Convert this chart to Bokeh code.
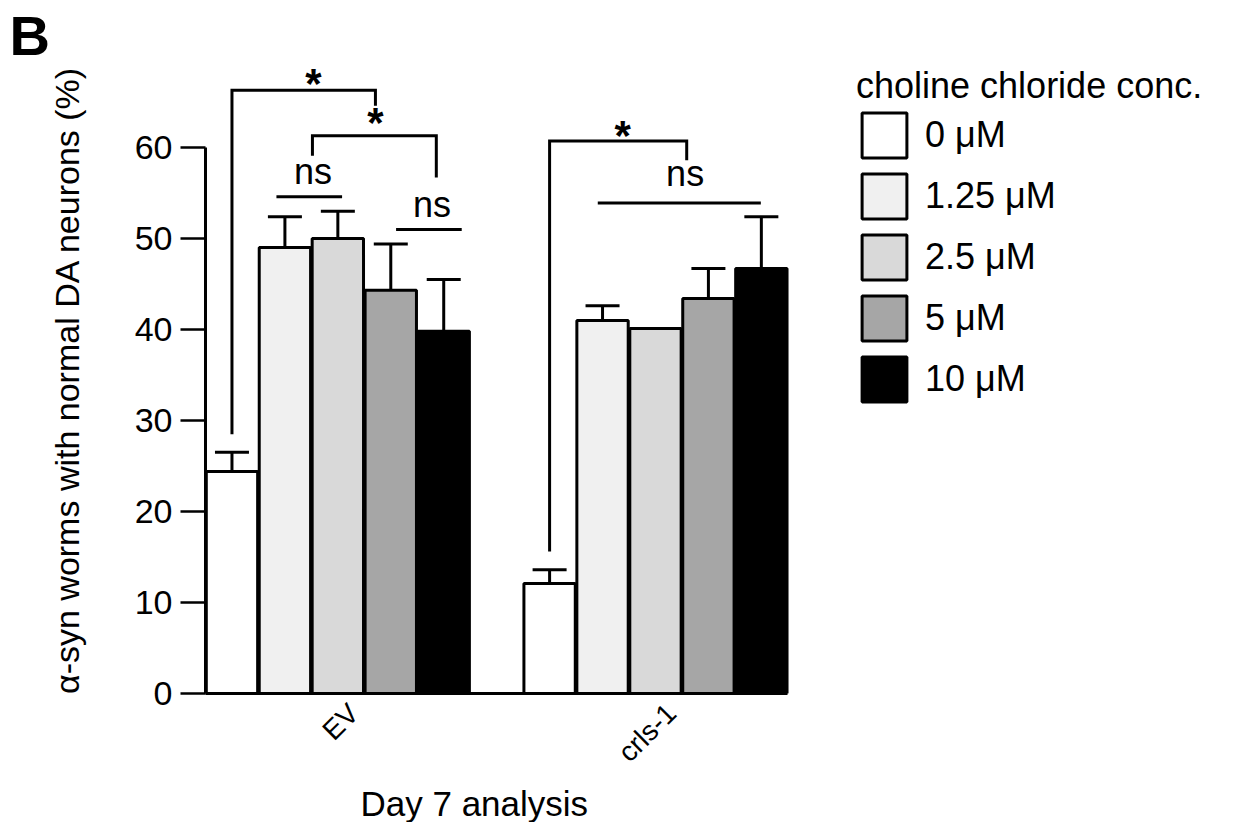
from math import pi
from bokeh.plotting import figure
from bokeh.models import (Range1d, FixedTicker, Legend, LegendItem, Whisker,
                          TeeHead, ColumnDataSource, Title)
from bokeh.core.properties import value
from bokeh.embed import file_html
from bokeh.resources import INLINE

# ---------------- data ----------------
groups = ["EV", "crls-1"]
concentrations = ["0 \u03bcM", "1.25 \u03bcM", "2.5 \u03bcM", "5 \u03bcM", "10 \u03bcM"]
ev_mean = [24.4, 49.0, 50.0, 44.3, 39.8]
ev_sem = [2.1, 3.4, 3.0, 5.1, 5.7]
crls_mean = [12.1, 41.0, 40.1, 43.4, 46.7]
crls_sem = [1.5, 1.6, 0.0, 3.3, 5.7]
bar_colors = ["#ffffff", "#f0f0f0", "#d9d9d9", "#a6a6a6", "#000000"]
y_ticks = [0, 10, 20, 30, 40, 50, 60]

# significance annotations (x in bar slots, y in %)
bracket_xs = [[0.5, 0.5, 3.21, 3.21], [2.02, 2.02, 4.36, 4.36], [6.5, 6.5, 9.09, 9.09]]
bracket_ys = [[28.5, 66.3, 66.3, 64.6], [59.1, 61.3, 61.3, 56.7], [15.6, 60.7, 60.7, 58.6]]
star_x = [2.04, 3.21, 7.88]
star_y = [67.0, 62.7, 61.3]
ns_line_x0 = [1.34, 3.60, 7.41]
ns_line_x1 = [2.58, 4.84, 10.49]
ns_line_y = [54.6, 51.0, 53.9]
ns_x = [2.03, 4.28, 9.06]
ns_y = [57.4, 53.7, 57.1]

FONT = "Liberation Sans"
n_conc = len(concentrations)
group_gap = n_conc + 1
group_centers = [g * group_gap + n_conc / 2 for g in range(len(groups))]
label_shift = 0.3
x_end = 11

p = figure(width=1232, height=822, x_range=Range1d(0, 19.4), y_range=Range1d(0, 68.9),
           output_backend="svg", toolbar_location=None,
           min_border_left=205, min_border_top=66, min_border_bottom=129,
           min_border_right=0)
p.xgrid.visible = False
p.ygrid.visible = False
p.outline_line_color = None

legend_items = []
for i, conc in enumerate(concentrations):
    xs = [g * group_gap + i + 0.5 for g in range(len(groups))]
    tops = [ev_mean[i], crls_mean[i]]
    errs = [ev_sem[i], crls_sem[i]]
    src = ColumnDataSource(dict(x=xs, top=tops))
    r = p.vbar(x="x", top="top", width=0.97, bottom=0, source=src,
               fill_color=bar_colors[i], line_color="black", line_width=3)
    legend_items.append(LegendItem(label=conc, renderers=[r]))
    keep = [k for k in range(len(xs)) if errs[k] > 0]
    esrc = ColumnDataSource(dict(x=[xs[k] for k in keep], lower=[tops[k] for k in keep],
                                 upper=[tops[k] + errs[k] for k in keep]))
    w = Whisker(base="x", lower="lower", upper="upper", source=esrc, dimension="height",
                line_width=3, line_color="black",
                upper_head=TeeHead(size=34, line_width=3, line_color="black"),
                lower_head=None)
    p.add_layout(w)

# brackets and ns lines
p.multi_line(xs=bracket_xs, ys=bracket_ys, line_width=3, line_color="black",
             line_join="miter")
p.segment(x0=ns_line_x0, y0=ns_line_y, x1=ns_line_x1, y1=ns_line_y,
          line_width=3, line_color="black")
p.text(x=star_x, y=star_y, text=["*"] * len(star_x), text_font=value(FONT),
       text_font_size="42px", text_font_style="bold", text_align="center",
       text_baseline="middle", text_color="black")
p.text(x=ns_x, y=ns_y, text=["ns"] * len(ns_x), text_font=value(FONT),
       text_font_size="36px", text_align="center", text_baseline="middle",
       text_color="black")

# axes
ya = p.yaxis[0]
ya.bounds = (0, 60)
ya.ticker = FixedTicker(ticks=y_ticks)
ya.minor_tick_line_color = None
ya.major_tick_out = 25
ya.major_tick_in = 0
ya.major_tick_line_width = 2.5
ya.axis_line_width = 3
ya.major_label_text_font = FONT
ya.major_label_text_font_size = "34px"
ya.major_label_text_color = "black"
ya.major_label_standoff = 8
ya.axis_label = "\u03b1-syn worms with normal DA neurons (%)"
ya.axis_label_text_font = FONT
ya.axis_label_text_font_size = "34px"
ya.axis_label_text_font_style = "normal"
ya.axis_label_text_color = "black"
ya.axis_label_standoff = 46

xa = p.xaxis[0]
xa.bounds = (0, x_end)
tick_pos = [c + label_shift for c in group_centers]
xa.ticker = FixedTicker(ticks=tick_pos)
xa.major_label_overrides = {t: g for t, g in zip(tick_pos, groups)}
xa.minor_tick_line_color = None
xa.major_tick_out = 0
xa.major_tick_in = 0
xa.axis_line_width = 3
xa.major_label_orientation = pi / 4
xa.major_label_text_font = FONT
xa.major_label_text_font_size = "28px"
xa.major_label_text_color = "black"
xa.major_label_standoff = 15

# x-axis title (placed under the bar area) and panel letter
p.add_layout(Title(text="Day 7 analysis", align="left", offset=155, standoff=0,
                   text_font=FONT, text_font_size="35px", text_font_style="normal",
                   text_color="black"), "below")
p.add_layout(Title(text="B", align="left", offset=-196, standoff=0,
                   text_font=FONT, text_font_size="56px", text_font_style="bold",
                   text_color="black"), "above")

legend = Legend(items=legend_items, location=(651, 286), title="choline chloride conc.",
                title_text_font=FONT, title_text_font_size="36px",
                title_text_font_style="normal", title_text_color="black",
                title_standoff=0,
                label_text_font=FONT, label_text_font_size="36px", label_text_color="black",
                glyph_width=56, glyph_height=56, label_height=56, label_width=300,
                spacing=5, label_standoff=13, padding=0, margin=0,
                border_line_color=None, background_fill_alpha=0)
p.add_layout(legend)

open("out.html", "w").write(file_html(p, INLINE))
